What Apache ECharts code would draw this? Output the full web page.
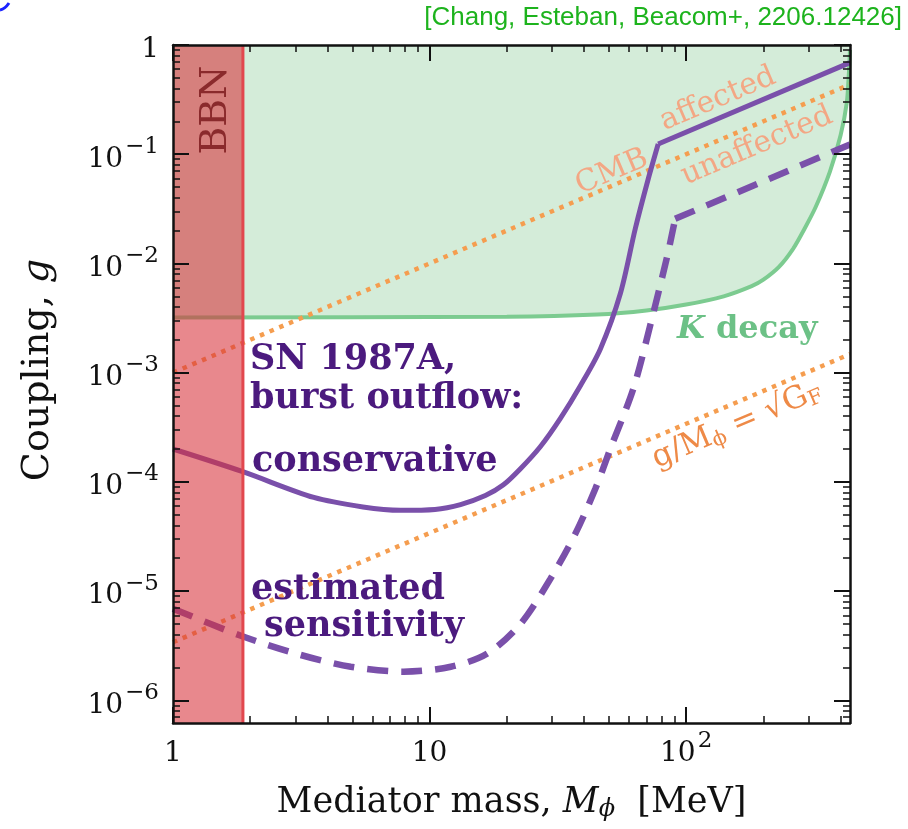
<!DOCTYPE html>
<html><head><meta charset="utf-8">
<script src="https://cdn.jsdelivr.net/npm/echarts@6/dist/echarts.min.js"></script>
<style>html,body{margin:0;padding:0;background:#fff}#c{width:908px;height:829px}</style>
</head><body><div id="c"></div>
<script>
// ---------- data (physical units: M in MeV, g dimensionless) ----------
const massRange = [1, 435];
const couplingRange = [6.2e-7, 1];
const massMajorTicks = [1, 10, 100];
const massMinorTicks = [2,3,4,5,6,7,8,9,20,30,40,50,60,70,80,90,200,300,400];
const couplingMajorTicks = [1e-6,1e-5,1e-4,1e-3,1e-2,1e-1,1];
const couplingMinorTicks = [7e-7,8e-7,9e-7,
  2e-6,3e-6,4e-6,5e-6,6e-6,7e-6,8e-6,9e-6,
  2e-5,3e-5,4e-5,5e-5,6e-5,7e-5,8e-5,9e-5,
  2e-4,3e-4,4e-4,5e-4,6e-4,7e-4,8e-4,9e-4,
  2e-3,3e-3,4e-3,5e-3,6e-3,7e-3,8e-3,9e-3,
  2e-2,3e-2,4e-2,5e-2,6e-2,7e-2,8e-2,9e-2,
  0.2,0.3,0.4,0.5,0.6,0.7,0.8,0.9];

// K decay bound (region above is excluded)
const kaonMass     = [1, 20, 45, 70, 100, 140, 180, 200, 230, 261, 290, 320, 363, 400, 423, 431, 435];
const kaonCoupling = [3.2e-3, 3.25e-3, 3.4e-3, 3.7e-3, 4.2e-3, 5.0e-3, 6.2e-3, 7.1e-3, 9.3e-3, 0.0136, 0.021, 0.033, 0.069, 0.15, 0.30, 0.57, 0.9];

// SN 1987A conservative (solid)
const consMass     = [1, 1.87, 3.54, 5.5, 7.7, 10.5, 13.2, 16.5, 19.4, 22.6, 27.0, 32.3, 38.7, 46.3, 55.4, 63.4, 71.1, 77.8];
const consCoupling = [2.0e-4, 1.24e-4, 7.2e-5, 5.9e-5, 5.5e-5, 5.6e-5, 6.2e-5, 7.5e-5, 9.4e-5, 1.32e-4, 2.1e-4, 3.8e-4, 7.6e-4, 1.65e-3, 5.3e-3, 0.021, 0.059, 0.124];
const consHighMass     = [77.8, 435];
const consHighCoupling = [0.124, 0.69];

// SN 1987A estimated sensitivity (dashed)
const sensMass     = [1, 1.84, 3.15, 4.93, 7.92, 12.1, 16.8, 22.6, 29.6, 37.0, 44.3, 50.6, 62.2, 72.4, 84.4, 90.6];
const sensCoupling = [6.9e-6, 3.9e-6, 2.6e-6, 2.03e-6, 1.83e-6, 2.03e-6, 2.68e-6, 5.0e-6, 1.3e-5, 3.36e-5, 8.7e-5, 2.0e-4, 7.1e-4, 2.7e-3, 0.0117, 0.0256];
const sensHighMass     = [90.6, 435];
const sensHighCoupling = [0.0256, 0.123];

// reference lines g = k * M
const lineMass = [1, 435];
const cmbCoupling = [1.0e-3, 0.435];
const fermiCoupling = [3.4e-6, 1.48e-3];

// BBN excluded below this mass
const bbnMass = [1, 1.873];

// ---------- helpers ----------
const L = Math.log10;
const pts = (ms, gs) => ms.map((m, i) => [L(m), L(gs[i])]);
const xMin = L(massRange[0]), xMax = L(massRange[1]);
const yMin = L(couplingRange[0]), yMax = L(couplingRange[1]);

const SERIF = "'DejaVu Serif', serif";
const tickRich = {
  b: {fontFamily: SERIF, fontSize: 28, color: '#111', padding: [10, 0, 0, 0]},
  s: {fontFamily: SERIF, fontSize: 23, color: '#111', verticalAlign: 'top', padding: [0, 0, 0, 2]}
};
function powLabel(v) {
  const n = Math.round(v);
  if (n === 0) return '{b|1}';
  if (n === 1) return '{b|10}';
  return '{b|10}{s|' + (n < 0 ? '\u2212' : '') + Math.abs(n) + '}';
}
const black = '#111';
function makeAxis(min, max, pos, major, extra) {
  return Object.assign({
    type: 'value', min, max, position: pos, z: 20,
    splitLine: {show: false},
    axisLine: {show: major, onZero: false, lineStyle: {color: black, width: 2.5}},
    axisLabel: {show: false}
  }, extra || {});
}
const xMajorL = massMajorTicks.map(L), xMinorL = massMinorTicks.map(L);
const yMajorL = couplingMajorTicks.map(L), yMinorL = couplingMinorTicks.map(L);
const majTick = vals => ({show: true, inside: true, length: 16, customValues: vals, lineStyle: {color: black, width: 2}});
const minTick = vals => ({show: true, inside: true, length: 7, customValues: vals, lineStyle: {color: black, width: 1.5}});

const xAxes = [
  makeAxis(xMin, xMax, 'bottom', true, {
    axisTick: majTick(xMajorL),
    axisLabel: {show: true, customValues: xMajorL, formatter: powLabel, margin: 7, rich: tickRich},
    name: '{t|Mediator mass, }{i|M}{sub|\u03d5}{t|  [MeV]}',
    nameLocation: 'middle', nameGap: 61,
    nameTextStyle: {fontFamily: SERIF, fontSize: 35, color: black, rich: {
      t: {fontFamily: SERIF, fontSize: 35, color: black},
      i: {fontFamily: SERIF, fontSize: 35, color: black, fontStyle: 'italic'},
      sub: {fontFamily: SERIF, fontSize: 24, color: black, fontStyle: 'italic', padding: [14, 0, 0, 0]}
    }}
  }),
  makeAxis(xMin, xMax, 'bottom', false, {axisTick: minTick(xMinorL)}),
  makeAxis(xMin, xMax, 'top', true, {axisTick: majTick(xMajorL)}),
  makeAxis(xMin, xMax, 'top', false, {axisTick: minTick(xMinorL)})
];
const yAxes = [
  makeAxis(yMin, yMax, 'left', true, {
    axisTick: majTick(yMajorL),
    axisLabel: {show: true, customValues: yMajorL, formatter: powLabel, margin: 14, rich: tickRich},
    name: '{t|Coupling, }{i|g}',
    nameLocation: 'middle', nameGap: 116,
    nameTextStyle: {fontFamily: SERIF, fontSize: 38, color: black, padding: [0, 0, 0, 28], rich: {
      t: {fontFamily: SERIF, fontSize: 38, color: black},
      i: {fontFamily: SERIF, fontSize: 38, color: black, fontStyle: 'italic'}
    }}
  }),
  makeAxis(yMin, yMax, 'left', false, {axisTick: minTick(yMinorL)}),
  makeAxis(yMin, yMax, 'right', true, {axisTick: majTick(yMajorL)}),
  makeAxis(yMin, yMax, 'right', false, {axisTick: minTick(yMinorL)})
];

const purple = '#7a50aa';
const purpleText = '#4b1a7e';
const orange = '#f59d4f';
const green = '#7ccb90';

const series = [
  {type: 'line', name: 'K decay', data: pts(kaonMass, kaonCoupling), smooth: 0.25,
    showSymbol: false, z: 1, lineStyle: {color: green, width: 4},
    areaStyle: {color: '#d4ecd9', opacity: 1, origin: 'end'}},
  {type: 'line', name: 'CMB', data: pts(lineMass, cmbCoupling), showSymbol: false, z: 3,
    lineStyle: {color: orange, width: 4.5, type: [4.5, 6], cap: 'butt'}},
  {type: 'line', name: 'GF', data: pts(lineMass, fermiCoupling), showSymbol: false, z: 3,
    lineStyle: {color: orange, width: 4.5, type: [4.5, 6], cap: 'butt'}},
  {type: 'line', name: 'conservative', data: pts(consMass, consCoupling), smooth: 0.3,
    showSymbol: false, z: 4, lineStyle: {color: purple, width: 5}},
  {type: 'line', name: 'conservative high', data: pts(consHighMass, consHighCoupling),
    showSymbol: false, z: 4, lineStyle: {color: purple, width: 5}},
  {type: 'line', name: 'sensitivity', data: pts(sensMass, sensCoupling), smooth: 0.3,
    showSymbol: false, z: 4, lineStyle: {color: purple, width: 6.5, type: [21, 13], cap: 'butt'}},
  {type: 'line', name: 'sensitivity high', data: pts(sensHighMass, sensHighCoupling),
    showSymbol: false, z: 4, lineStyle: {color: purple, width: 6.5, type: [21, 13], cap: 'butt'}},
  {type: 'line', name: 'BBN', data: bbnMass.map(m => [L(m), yMax]), showSymbol: false, z: 6,
    lineStyle: {width: 0}, areaStyle: {color: 'rgb(215,50,58)', opacity: 0.58, origin: 'start'}},
  {type: 'line', name: 'BBN edge', data: [[L(bbnMass[1]), yMin], [L(bbnMass[1]), yMax]], showSymbol: false, z: 7,
    lineStyle: {color: '#e2474e', width: 3}}
];

const ROT = Math.atan(109.2 / 256.6);
const txt = (x, y, text, o) => ({type: 'text', x, y, z: 100, rotation: o.rotation || 0,
  style: Object.assign({text, fontFamily: SERIF, align: 'left', verticalAlign: 'middle'}, o.style)});
const bold = (size, fill) => ({fontSize: size, fontWeight: 'bold', fill});

const graphic = [
  {type: 'text', x: 902, y: 18, z: 100, style: {text: '[Chang, Esteban, Beacom+, 2206.12426]',
    fontFamily: "'Liberation Sans', Arial, sans-serif", fontSize: 26, fill: '#1db31d', align: 'right', verticalAlign: 'middle'}},
  {type: 'bezierCurve', z: 100, shape: {x1: 0, y1: 10, x2: 9, y2: 3, cpx1: 5, cpy1: 9}, style: {stroke: '#1a22ff', lineWidth: 3, fill: null}},
  txt(216, 110, 'BBN', {rotation: Math.PI / 2, style: {fontSize: 38, fill: '#8a2a2c', align: 'center'}}),
  txt(250, 360, 'SN 1987A,', {style: bold(35, purpleText)}),
  txt(250, 399, 'burst outflow:', {style: bold(35, purpleText)}),
  txt(252, 462, 'conservative', {style: bold(35, purpleText)}),
  txt(251, 590, 'estimated', {style: bold(35, purpleText)}),
  txt(264, 627, 'sensitivity', {style: bold(35, purpleText)}),
  txt(677, 330, '{k|K} decay', {style: Object.assign(bold(32, '#6cc186'),
    {rich: {k: {fontFamily: SERIF, fontSize: 32, fontWeight: 'bold', fontStyle: 'italic', fill: '#6cc186'}}})}),
  txt(612, 172, 'CMB', {rotation: ROT, style: {fontSize: 30, fill: '#f3a784', align: 'center'}}),
  txt(718, 99, 'affected', {rotation: ROT, style: {fontSize: 30, fill: '#f3a784', align: 'center'}}),
  txt(757, 146, 'unaffected', {rotation: ROT, style: {fontSize: 30, fill: '#f3a784', align: 'center'}}),
  txt(737, 425, 'g/M{s|\u03d5} = \u221aG{s|F}', {rotation: ROT, style: {fontSize: 31, fill: '#ee8a47', align: 'center',
    rich: {
      s: {fontFamily: SERIF, fontSize: 21, fill: '#ee8a47', padding: [13, 0, 0, 0]}
    }}})
];

const chart = echarts.init(document.getElementById('c'), null, {renderer: 'canvas'});
chart.setOption({
  animation: false,
  backgroundColor: '#fff',
  grid: {left: 173, top: 45, width: 677, height: 678, containLabel: false, outerBoundsMode: 'none'},
  xAxis: xAxes,
  yAxis: yAxes,
  series: series.map(s => Object.assign({xAxisIndex: 0, yAxisIndex: 0, silent: true}, s)),
  graphic
});
</script></body></html>
